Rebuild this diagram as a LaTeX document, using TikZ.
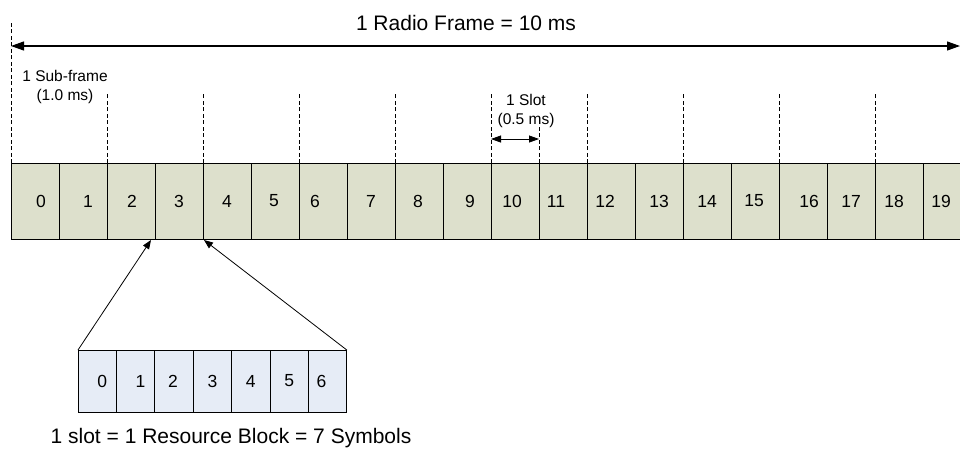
\documentclass[tikz,border=0pt]{standalone}
\usepackage{fontspec}
\setmainfont{Liberation Sans}
\usetikzlibrary{arrows.meta}
\definecolor{slotfill}{RGB}{221,224,204}
\definecolor{symfill}{RGB}{230,236,246}
\begin{document}
\begin{tikzpicture}[x=1pt,y=-1pt,inner sep=0pt,outer sep=0pt,line width=0.8pt,
slotbox/.style={draw,rectangle,fill=slotfill,minimum width=48pt,minimum height=76pt,anchor=north west},
symbox/.style={draw,rectangle,fill=symfill,minimum width=38.4pt,minimum height=62pt,anchor=north west},
numtext/.style={font=\fontsize{17.5}{20}\selectfont},
smalltext/.style={font=\fontsize{15.5}{19}\selectfont,align=center},
gridline/.style={dash pattern=on 4pt off 2.5pt,line width=0.7pt}]
\useasboundingbox (0,0) rectangle (960,448);
% one radio frame, 20 slots
\foreach \i/\dx in {0/6,1/5,2/1,3/0,4/0,5/-1,6/-8,7/0,8/-1,9/3,10/-3,11/-7,12/-6,13/0,14/0,15/-1,16/6,17/0,18/-5,19/-6}{
  \draw (11+48*\i,163) node[slotbox] (s\i) {};
  \draw (s\i.center) ++(\dx,0) node[numtext] (n\i) {\i};
}
\draw[gridline] (s0.north west) -- ++(0,-141);
\foreach \i in {2,4,...,18}
  \draw[gridline] (s\i.north west) -- ++(0,-71);
\draw[gridline] (s11.north west) -- ++(0,-45);
% frame length
\coordinate (fl) at (11,46);
\coordinate (fr) at (960,46);
\draw[{Triangle[length=13pt,width=9pt]}-{Triangle[length=13pt,width=9pt]},line width=1.2pt] (fl) -- (fr);
\draw (466,23) node[font=\fontsize{21}{25}\selectfont] (title) {1 Radio Frame = 10 ms};
\draw (65,87) node[smalltext] (subf) {1 Sub-frame\\(1.0 ms)};
\draw (526,111) node[smalltext] (slotlbl) {1 Slot\\(0.5 ms)};
\draw[{Triangle[length=10pt,width=7pt]}-{Triangle[length=10pt,width=7pt]}] ([yshift=24pt]s10.north west) -- ([yshift=24pt]s11.north west);
% one slot, 7 symbols
\foreach \j/\dx in {0/5,1/5,2/-1,3/0,4/0,5/0,6/-6}{
  \draw (78+38.4*\j,350) node[symbox] (r\j) {};
  \draw (r\j.center) ++(\dx,0) node[numtext] (m\j) {\j};
}
\draw[-{Triangle[length=9pt,width=7pt]}] (r0.north west) -- ([xshift=-4pt,yshift=-1pt]s2.south east);
\draw[-{Triangle[length=9pt,width=7pt]}] (r6.north east) -- ([xshift=1pt,yshift=-1pt]s4.south west);
\draw (231,438) node[font=\fontsize{21}{25}\selectfont] (rblbl) {1 slot = 1 Resource Block = 7 Symbols};
\end{tikzpicture}
\end{document}
